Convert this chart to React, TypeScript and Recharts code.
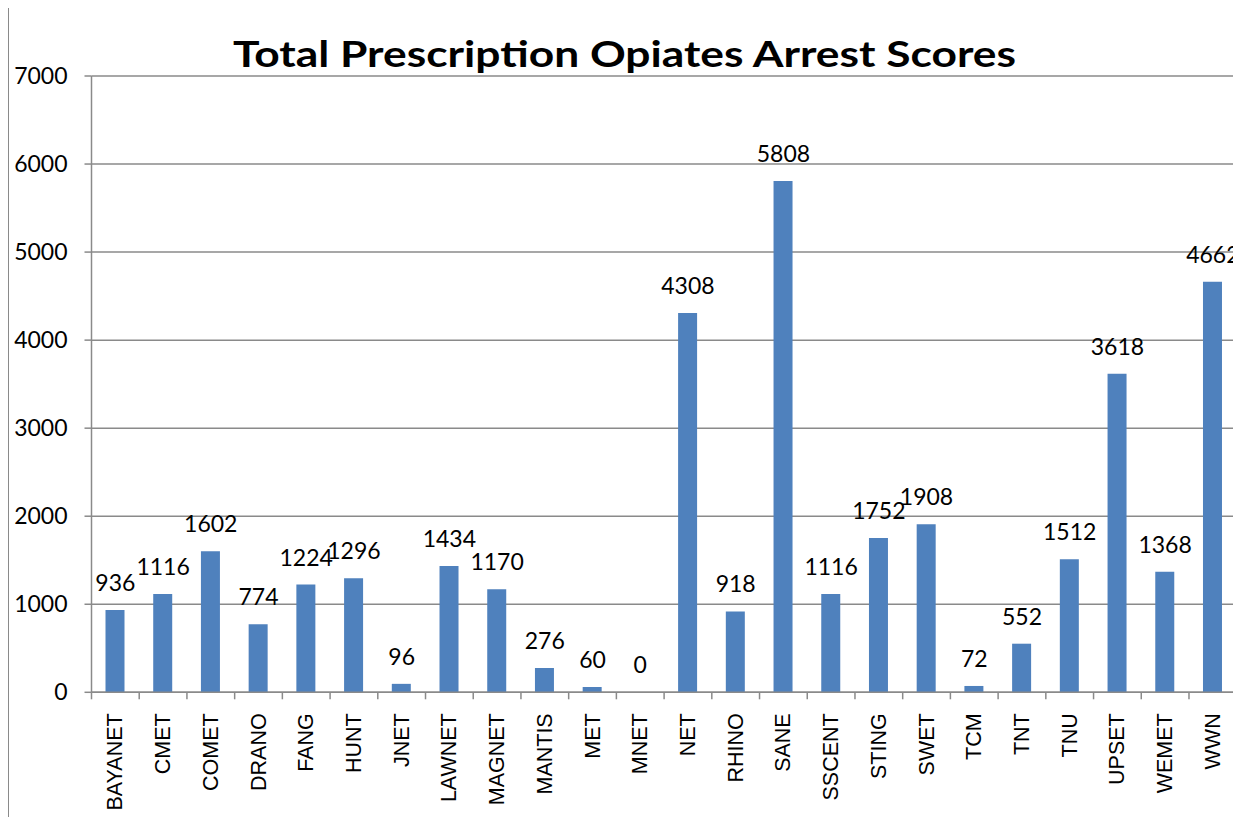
import { ComposedChart, Bar, Line, XAxis, YAxis, CartesianGrid, LabelList } from "recharts";

const agencies = [
  "BAYANET", "CMET", "COMET", "DRANO", "FANG", "HUNT", "JNET", "LAWNET",
  "MAGNET", "MANTIS", "MET", "MNET", "NET", "RHINO", "SANE", "SSCENT",
  "STING", "SWET", "TCM", "TNT", "TNU", "UPSET", "WEMET", "WWN",
];
const scores = [
  936, 1116, 1602, 774, 1224, 1296, 96, 1434, 1170, 276, 60, 0, 4308, 918,
  5808, 1116, 1752, 1908, 72, 552, 1512, 3618, 1368, 4662,
];
const yTicks = [0, 1000, 2000, 3000, 4000, 5000, 6000, 7000];
const title = "Total Prescription Opiates Arrest Scores";

const W = 1240;
const H = 809;
const AXIS_W = 82.5;
const M = { top: 68, right: 12.3, left: 0, bottom: 0 };
const band = (W - AXIS_W - M.left - M.right) / agencies.length;
const grey = "#8a8a8a";
const calibri = "Lato, 'Open Sans', sans-serif";

const data = agencies.map((name, i) => ({ name, value: scores[i] }));

function AgencyTick(props: any) {
  const { x, y, payload, index } = props;
  const last = index === agencies.length - 1;
  return (
    <g>
      <line x1={x - band / 2} x2={x - band / 2} y1={y} y2={y + 7} stroke={grey} strokeWidth={1.5} />
      {last && <line x1={x + band / 2} x2={x + band / 2} y1={y} y2={y + 7} stroke={grey} strokeWidth={1.5} />}
      <text
        transform={`translate(${x},${y + 21}) rotate(-90)`}
        textAnchor="end"
        dominantBaseline="central"
        fontFamily="'Liberation Sans', Arial, sans-serif"
        fontSize={21.5}
        fill="#000"
      >
        {payload.value}
      </text>
    </g>
  );
}

// labels hang off an invisible line so the zero bar still gets one
function ValueLabel(props: any) {
  const { x, y, value } = props;
  return (
    <text x={x} y={y - 19} textAnchor="middle" fontFamily={calibri} fontSize={23} fill="#000">
      {value}
    </text>
  );
}

export default function App() {
  return (
    <div
      style={{
        position: "relative",
        width: W,
        height: H,
        marginTop: -1,
        border: `1px solid ${grey}`,
        background: "#fff",
      }}
    >
      <ComposedChart width={W} height={H} data={data} margin={M} barSize={19}>
        <CartesianGrid horizontal vertical={false} stroke={grey} strokeWidth={1.5} />
        <XAxis
          dataKey="name"
          interval={0}
          height={H - M.top - 616.3}
          axisLine={{ stroke: grey, strokeWidth: 1.5 }}
          tickLine={false}
          tickSize={0}
          tickMargin={0}
          tick={<AgencyTick />}
        />
        <YAxis
          width={AXIS_W}
          domain={[0, 7000]}
          ticks={yTicks}
          interval={0}
          axisLine={{ stroke: grey, strokeWidth: 1.5 }}
          tickLine={{ stroke: grey, strokeWidth: 1.5 }}
          tickSize={7}
          tickMargin={17}
          tick={{ fill: "#000", fontSize: 23, fontFamily: calibri }}
        />
        <Bar dataKey="value" fill="#4f81bd" isAnimationActive={false} />
        <Line
          dataKey="value"
          stroke="none"
          dot={false}
          activeDot={false}
          isAnimationActive={false}
        >
          <LabelList dataKey="value" content={<ValueLabel />} />
        </Line>
      </ComposedChart>
      <svg
        width={W}
        height={80}
        style={{ position: "absolute", left: 0, top: 0, pointerEvents: "none" }}
      >
        <text
          x={615.5}
          y={59}
          textAnchor="middle"
          fontFamily={calibri}
          fontWeight="bold"
          fontSize={37}
          textLength={783}
          lengthAdjust="spacingAndGlyphs"
          fill="#000"
        >
          {title}
        </text>
      </svg>
    </div>
  );
}
